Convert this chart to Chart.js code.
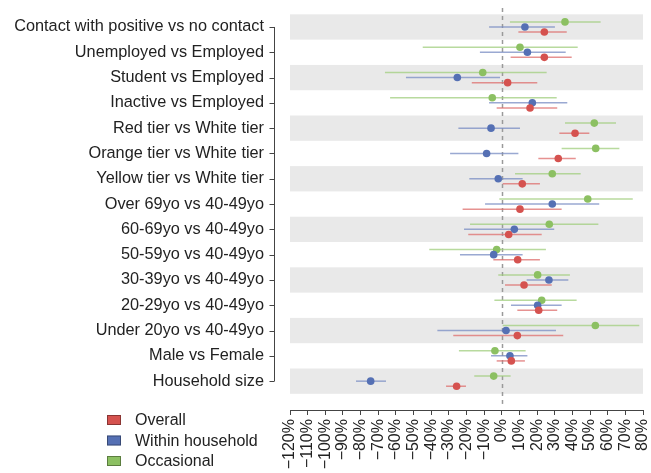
<!DOCTYPE html>
<html>
<head>
<meta charset="utf-8">
<script src="https://cdn.jsdelivr.net/npm/chart.js@4.4.0/dist/chart.umd.min.js"></script>
<style>
  html, body { margin: 0; padding: 0; background: #fff; }
</style>
</head>
<body>
<canvas id="chart" width="651" height="473"></canvas>
<script>
const categories = [
  'Contact with positive vs no contact', 'Unemployed vs Employed', 'Student vs Employed',
  'Inactive vs Employed', 'Red tier vs White tier', 'Orange tier vs White tier',
  'Yellow tier vs White tier', 'Over 69yo vs 40-49yo', '60-69yo vs 40-49yo',
  '50-59yo vs 40-49yo', '30-39yo vs 40-49yo', '20-29yo vs 40-49yo',
  'Under 20yo vs 40-49yo', 'Male vs Female', 'Household size'
];

// point estimates and confidence bounds, in %
const overallEst = [24.1, 24.1, 3.3, 16, 41.5, 32, 11.6, 10.3, 3.9, 9, 12.6, 20.9, 8.8, 5.4, -25.6];
const overallLo  = [9.4, 5, -17, -2.9, 32.6, 20.7, 0.5, -22.2, -19, -4.8, 1.8, 8.8, -27.5, -2.9, -31.6];
const overallHi  = [36.8, 39.6, 20.1, 31.4, 49.6, 41.9, 21.6, 33.9, 22.6, 21.6, 28.3, 31.4, 34.8, 13.1, -20.3];

const withinEst = [13.1, 14.5, -25.2, 17.3, -6.1, -8.6, -2, 28.6, 7.1, -4.6, 26.7, 20.3, 2.4, 4.6, -74.3];
const withinLo  = [-7.2, -12.4, -54.3, -7.2, -24.6, -29.3, -18.4, -9.5, -21.4, -23.7, 14.1, 5.2, -36.5, -6.1, -82.6];
const withinHi  = [30.1, 36.2, -1, 37.1, 10.3, 9.4, 11.8, 55.2, 29.7, 11.8, 37.7, 33.9, 30.7, 14.5, -65.6];

const occEst = [35.8, 10.3, -10.8, -5.4, 52.4, 53.2, 28.6, 48.7, 26.9, -2.9, 20.3, 22.6, 53, -3.9, -4.6];
const occLo  = [4.6, -44.8, -66.2, -63.3, 35.8, 33.9, 7.5, -1.4, -18, -41.1, -2, -4.2, 0.5, -24.3, -15.6];
const occHi  = [56, 43, 25.4, 31.1, 64.7, 66.6, 44.7, 74.2, 54.7, 25, 38.6, 42.4, 77.9, 13.5, 5];

const xTicks = [-120, -110, -100, -90, -80, -70, -60, -50, -40, -30, -20, -10, 0, 10, 20, 30, 40, 50, 60, 70, 80];

const series = [
  { label: 'Overall', est: overallEst, lo: overallLo, hi: overallHi, color: '#d5524f', ci: 'rgba(222,110,108,0.75)', shift: 0.2 },
  { label: 'Within household', est: withinEst, lo: withinLo, hi: withinHi, color: '#5570b4', ci: 'rgba(120,140,195,0.75)', shift: 0 },
  { label: 'Occasional', est: occEst, lo: occLo, hi: occHi, color: '#8cc062', ci: 'rgba(160,205,125,0.75)', shift: -0.2 }
];

Chart.defaults.font.family = "'Liberation Sans', Arial, sans-serif";
Chart.defaults.font.size = 16;
Chart.defaults.color = '#222';

const decor = {
  id: 'decor',
  beforeDatasetsDraw(chart) {
    const { ctx, chartArea: a, scales: { x, y } } = chart;
    ctx.save();
    // alternating bands
    ctx.fillStyle = '#e9e9e9';
    categories.forEach((c, i) => {
      if (i % 2) return;
      const t = y.getPixelForValue(i - 0.5), b = y.getPixelForValue(i + 0.5);
      ctx.fillRect(a.left, t, a.right - a.left, b - t);
    });
    // zero reference line
    ctx.strokeStyle = '#9a9a9a';
    ctx.lineWidth = 1.5;
    ctx.setLineDash([4, 4]);
    const zx = Math.round(x.getPixelForValue(0)) + 0.5;
    ctx.beginPath();
    ctx.moveTo(zx, a.top);
    ctx.lineTo(zx, y.getPixelForValue(categories.length - 0.1));
    ctx.stroke();
    ctx.setLineDash([]);
    // confidence intervals
    ctx.lineWidth = 1.5;
    series.forEach(s => {
      ctx.strokeStyle = s.ci;
      s.est.forEach((v, i) => {
        const py = y.getPixelForValue(i + s.shift);
        ctx.beginPath();
        ctx.moveTo(x.getPixelForValue(s.lo[i]), py);
        ctx.lineTo(x.getPixelForValue(s.hi[i]), py);
        ctx.stroke();
      });
    });
    ctx.restore();
  },
  afterDraw(chart) {
    const { ctx, chartArea: a, scales: { y } } = chart;
    ctx.save();
    // y axis line with ticks
    const ax = a.left - 15.5;
    ctx.strokeStyle = '#444';
    ctx.lineWidth = 1;
    ctx.beginPath();
    ctx.moveTo(ax, y.getPixelForValue(0));
    ctx.lineTo(ax, y.getPixelForValue(categories.length - 1));
    categories.forEach((c, i) => {
      const py = Math.round(y.getPixelForValue(i)) + 0.5;
      ctx.moveTo(ax - 5, py);
      ctx.lineTo(ax, py);
    });
    ctx.stroke();
    // legend
    ctx.font = "16px 'Liberation Sans', Arial, sans-serif";
    ctx.textBaseline = 'middle';
    series.forEach((s, i) => {
      const cy = 420 + i * 20.5;
      ctx.fillStyle = s.color;
      ctx.fillRect(107, cy - 5, 14, 10);
      ctx.strokeStyle = 'rgba(0,0,0,0.35)';
      ctx.strokeRect(107.5, cy - 4.5, 13, 9);
      ctx.fillStyle = '#222';
      ctx.fillText(s.label, 135, cy + 1);
    });
    ctx.restore();
  }
};

new Chart(document.getElementById('chart'), {
  type: 'scatter',
  data: {
    datasets: series.map(s => ({
      label: s.label,
      data: s.est.map((v, i) => ({ x: v, y: i + s.shift })),
      backgroundColor: s.color,
      borderColor: s.color,
      borderWidth: 0,
      pointRadius: 3.8
    }))
  },
  options: {
    responsive: false,
    animation: false,
    layout: { padding: { top: 8, right: 8, left: 0, bottom: 0 } },
    plugins: { legend: { display: false }, tooltip: { enabled: false } },
    scales: {
      x: {
        type: 'linear',
        min: -120,
        max: 80,
        afterBuildTicks: s => { s.ticks = xTicks.map(v => ({ value: v })); },
        afterFit: s => { s.height = 63; s.paddingLeft = 0; s.paddingRight = 0; },
        ticks: {
          autoSkip: false,
          minRotation: 90,
          maxRotation: 90,
          padding: 4,
          callback: v => (v < 0 ? '\u2212' + Math.abs(v) : v) + '%'
        },
        grid: { drawOnChartArea: false, drawTicks: true, tickLength: 5, color: '#444' },
        border: { display: true, color: '#444', width: 1 }
      },
      y: {
        type: 'linear',
        reverse: true,
        min: -0.75,
        max: 15.14,
        afterBuildTicks: s => { s.ticks = categories.map((c, i) => ({ value: i })); },
        afterFit: s => { s.width = 290; s.paddingTop = 0; s.paddingBottom = 0; },
        ticks: {
          padding: 26,
          font: { size: 16.3 },
          callback: v => categories[v]
        },
        grid: { display: false, drawTicks: false },
        border: { display: false }
      }
    }
  },
  plugins: [decor]
});
</script>
</body>
</html>
